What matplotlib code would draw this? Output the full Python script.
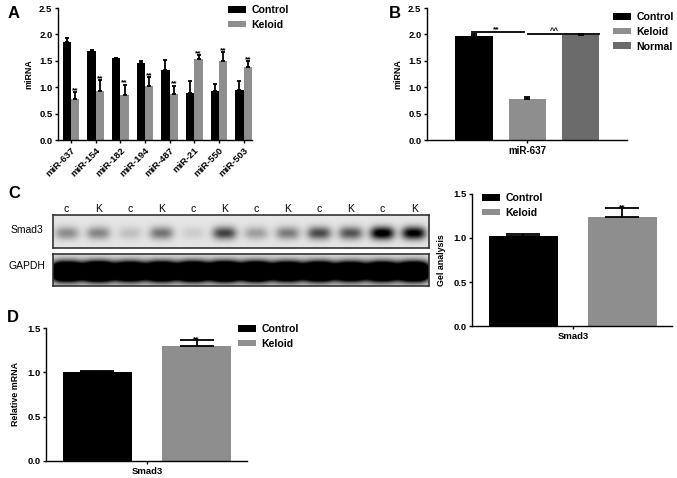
import numpy as np
import matplotlib

matplotlib.use("Agg")
import matplotlib.pyplot as plt

plt.rcParams["font.family"] = ["Liberation Sans", "DejaVu Sans"]
plt.rcParams["axes.linewidth"] = 1.0

W, H = 677, 478

# --- panel A data ---
mirnas = ["miR-637", "miR-154", "miR-182", "miR-194", "miR-487", "miR-21", "miR-550", "miR-503"]
ctrl_a = [1.85, 1.68, 1.55, 1.45, 1.33, 0.89, 0.93, 0.95]
ctrl_a_err = [0.09, 0.03, 0.01, 0.04, 0.18, 0.22, 0.14, 0.16]
kel_a = [0.78, 0.92, 0.86, 1.02, 0.88, 1.54, 1.50, 1.38]
kel_a_err = [0.13, 0.22, 0.19, 0.18, 0.15, 0.07, 0.16, 0.11]

# --- panel B data ---
groups_b = ["Control", "Keloid", "Normal"]
vals_b = [1.97, 0.78, 1.98]
err_b = [0.03, 0.03, 0.02]

# --- panel C blot / gel data ---
lanes = ["c", "K", "c", "K", "c", "K", "c", "K", "c", "K", "c", "K"]
smad3_band = [0.35, 0.38, 0.15, 0.45, 0.10, 0.65, 0.28, 0.42, 0.62, 0.58, 1.0, 0.95]
gapdh_band = [2.6, 2.8, 2.5, 2.6, 2.7, 2.8, 2.7, 2.5, 2.6, 2.4, 2.5, 2.6]
gel_vals = [1.02, 1.24]
gel_err = [0.02, 0.10]

# --- panel D data ---
mrna_vals = [1.00, 1.30]
mrna_err = [0.01, 0.06]

BLACK = "#000000"
GRAY = "#8e8e8e"
DGRAY = "#6b6b6b"
EKW = {"elinewidth": 1.3, "capthick": 1.3}


def add_ax(fig, x0, y0, x1, y1):
    return fig.add_axes([x0 / W, 1 - y1 / H, (x1 - x0) / W, (y1 - y0) / H])


def style_ax(ax, size=6.8):
    ax.spines["top"].set_visible(False)
    ax.spines["right"].set_visible(False)
    ax.tick_params(direction="out", length=2.5, width=1, labelsize=size, pad=1.5)
    for lab in ax.get_xticklabels() + ax.get_yticklabels():
        lab.set_fontweight("bold")


def fig_legend(fig, handles, labels, x, y):
    fig.legend(handles, labels, loc="upper left", bbox_to_anchor=(x / W, 1 - y / H),
               frameon=False, prop={"weight": "bold", "size": 7.6},
               handlelength=1.7, handleheight=0.6, handletextpad=0.5,
               labelspacing=0.45, borderaxespad=0, borderpad=0)


def stars(ax, x, y, s="**"):
    ax.text(x, y, s, ha="center", va="bottom", fontsize=6, fontweight="bold")


fig = plt.figure(figsize=(W / 100, H / 100), dpi=100)

# ---------------- A ----------------
ax = add_ax(fig, 58, 8, 252, 140)
x = np.arange(len(mirnas))
bw = 0.34
b1 = ax.bar(x - bw / 2, ctrl_a, bw, color=BLACK,
            yerr=[np.zeros(len(x)), ctrl_a_err], capsize=1.5, error_kw=EKW)
b2 = ax.bar(x + bw / 2, kel_a, bw, color=GRAY,
            yerr=[np.zeros(len(x)), kel_a_err], capsize=1.5, error_kw=EKW)
for i in range(len(x)):
    stars(ax, x[i] + bw / 2, kel_a[i] + kel_a_err[i] - 0.04)
ax.set_xlim(-0.53, 7.34)
ax.set_ylim(0, 2.5)
ax.set_yticks(np.arange(0, 2.51, 0.5))
ax.set_yticklabels([f"{v:.1f}" for v in np.arange(0, 2.51, 0.5)])
ax.set_xticks(x)
ax.set_xticklabels(mirnas, rotation=45, ha="right", rotation_mode="anchor")
ax.set_ylabel("miRNA", fontsize=6.4, fontweight="bold", labelpad=4)
style_ax(ax)
fig_legend(fig, [b1, b2], ["Control", "Keloid"], 228, 5)
fig.text(8 / W, 1 - 13 / H, "A", fontsize=12, fontweight="bold", va="center")

# ---------------- B ----------------
ax = add_ax(fig, 427, 8, 627, 140)
xb = np.arange(len(groups_b))
bars_b = ax.bar(xb, vals_b, 0.7, color=[BLACK, GRAY, DGRAY],
                yerr=[np.zeros(3), err_b], capsize=2, error_kw=EKW)
ax.plot([-0.03, 0.93], [2.05, 2.05], color="black", lw=1.3)
ax.plot([1.02, 2.35], [2.01, 2.01], color="black", lw=1.3)
stars(ax, 0.42, 2.02)
ax.text(1.5, 1.99, "^^", ha="center", va="bottom", fontsize=5.5, fontweight="bold")
ax.set_xlim(-0.88, 2.87)
ax.set_ylim(0, 2.5)
ax.set_yticks(np.arange(0, 2.51, 0.5))
ax.set_yticklabels([f"{v:.1f}" for v in np.arange(0, 2.51, 0.5)])
ax.set_xticks([1])
ax.set_xticklabels(["miR-637"])
ax.set_ylabel("miRNA", fontsize=6.4, fontweight="bold", labelpad=4)
style_ax(ax)
for lab in ax.get_xticklabels():
    lab.set_fontsize(7)
fig_legend(fig, list(bars_b), groups_b, 613, 12)
fig.text(389 / W, 1 - 13 / H, "B", fontsize=12, fontweight="bold", va="center")

# ---------------- C blot ----------------
fig.text(8 / W, 1 - 193 / H, "C", fontsize=12, fontweight="bold", va="center")
xl = (-0.43, 11.47)
gx = np.linspace(xl[0], xl[1], 500)
gy = np.linspace(0, 1, 80)
GX, GY = np.meshgrid(gx, gy)


def band_image(levels, yc, sx, sy, bg, power=2):
    img = np.full(GX.shape, bg)
    for i, lv in enumerate(levels):
        img += lv * np.exp(-np.abs((GX - i) / sx) ** power / 2 - np.abs((GY - yc) / sy) ** 2 / 2)
    return np.clip(img, 0, 1)


ax_s = add_ax(fig, 53, 215, 429, 248)
ax_s.imshow(band_image(smad3_band, 0.45, 0.3, 0.14, 0.1, power=3), extent=(xl[0], xl[1], 0, 1),
            origin="lower", aspect="auto", cmap="gray_r", vmin=0, vmax=1, interpolation="bilinear")
ax_s.set_xlim(xl)
ax_s.set_ylim(0, 1)
ax_s.set_yticks([])
ax_s.xaxis.tick_top()
ax_s.set_xticks(range(len(lanes)))
ax_s.set_xticklabels(lanes, fontsize=7.5)
ax_s.tick_params(axis="x", length=0, pad=1)
ax_s.text(-0.07, 0.55, "Smad3", transform=ax_s.transAxes, ha="center", va="center", fontsize=7.5)

ax_g = add_ax(fig, 53, 254, 429, 286)
ax_g.imshow(band_image(gapdh_band, 0.45, 0.4, 0.2, 0.1, power=3), extent=(xl[0], xl[1], 0, 1),
            origin="lower", aspect="auto", cmap="gray_r", vmin=0, vmax=1, interpolation="bilinear")
ax_g.set_xlim(xl)
ax_g.set_ylim(0, 1)
ax_g.set_xticks([])
ax_g.set_yticks([])
ax_g.text(-0.07, 0.62, "GAPDH", transform=ax_g.transAxes, ha="center", va="center", fontsize=7.5)
for a in (ax_s, ax_g):
    for sp in a.spines.values():
        sp.set_linewidth(1.2)
        sp.set_color("#333333")

# ---------------- C gel analysis ----------------
ax = add_ax(fig, 472, 194, 672, 326)
b = ax.bar([0, 1], gel_vals, 0.69, color=[BLACK, GRAY],
           yerr=[[0, 0], gel_err], capsize=12, error_kw=EKW)
stars(ax, 1, gel_vals[1] + gel_err[1] - 0.035)
ax.set_xlim(-0.52, 1.5)
ax.set_ylim(0, 1.5)
ax.set_yticks([0, 0.5, 1.0, 1.5])
ax.set_yticklabels(["0.0", "0.5", "1.0", "1.5"])
ax.set_xticks([0.5])
ax.set_xticklabels(["Smad3"])
ax.set_ylabel("Gel analysis", fontsize=6.4, fontweight="bold", labelpad=5)
style_ax(ax)
fig_legend(fig, list(b), ["Control", "Keloid"], 482, 193)

# ---------------- D ----------------
ax = add_ax(fig, 46, 328, 247, 461)
b = ax.bar([0, 1], mrna_vals, 0.69, color=[BLACK, GRAY],
           yerr=[[0, 0], mrna_err], capsize=12, error_kw=EKW)
stars(ax, 1, mrna_vals[1] + mrna_err[1] - 0.035)
ax.set_xlim(-0.52, 1.51)
ax.set_ylim(0, 1.5)
ax.set_yticks([0, 0.5, 1.0, 1.5])
ax.set_yticklabels(["0.0", "0.5", "1.0", "1.5"])
ax.set_xticks([0.5])
ax.set_xticklabels(["Smad3"])
ax.set_ylabel("Relative mRNA", fontsize=6.4, fontweight="bold", labelpad=5)
style_ax(ax)
fig_legend(fig, list(b), ["Control", "Keloid"], 238, 324)
fig.text(7 / W, 1 - 318 / H, "D", fontsize=12, fontweight="bold", va="center")

fig.savefig("out.png", dpi=100)
